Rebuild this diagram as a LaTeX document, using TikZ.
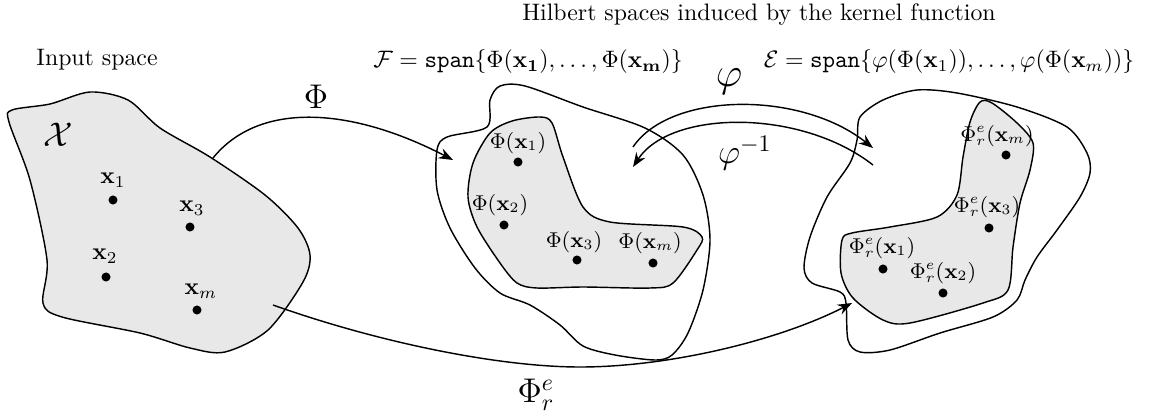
\documentclass[tikz,border=0pt]{standalone}
\usepackage{tikz}
\usetikzlibrary{arrows.meta}

\tikzset{
  region/.style={draw, semithick, fill=gray!18},
  hull/.style={draw, semithick},
  pt/.style={circle, fill, inner sep=0pt, minimum size=3.8pt},
  map/.style={semithick, -{Stealth[length=6pt,width=4.5pt]}},
  lab/.style={font=\small, inner sep=0.5pt}
}

\begin{document}
\begin{tikzpicture}[x=0.42pt,y=-0.42pt]
\useasboundingbox (0,0) rectangle (1149,414);

% headings
\node (title) at (759,15)  {Hilbert spaces induced by the kernel function};
\node (inp)   at (97,60)   {Input space};
\node (Fspan) at (528,62)  {$\mathcal{F} = \mathtt{span}\{\Phi(\mathbf{x_1}),\ldots,\Phi(\mathbf{x_m})\}$};
\node (Espan) at (949,62)  {$\mathcal{E} = \mathtt{span}\{\varphi(\Phi(\mathbf{x}_1)),\ldots,\varphi(\Phi(\mathbf{x}_m))\}$};

% input space
\draw [region] plot [smooth cycle] coordinates {(12,110) (50,104) (90,92) (128,100) (160,128)
  (210,157) (265,195) (298,228) (310,255) (303,282) (268,330) (225,352) (190,348) (140,333)
  (62,317) (43,303) (47,260) (30,180) (9,122)};
\node [font=\Large] (X) at (58,135) {$\mathcal{X}$};
\node [pt] (x1) at (113,200) {};
\node [pt] (x3) at (190,227) {};
\node [pt] (x2) at (106,277) {};
\node [pt] (xm) at (197,310) {};
\node (lx1) at (113,180) {$\mathbf{x}_1$};
\node (lx3) at (192,208) {$\mathbf{x}_3$};
\node (lx2) at (105,256) {$\mathbf{x}_2$};
\node (lxm) at (201,291) {$\mathbf{x}_m$};

% feature space F
\draw [hull] plot [smooth cycle] coordinates {(490,100) (500,86) (525,86) (583,107) (645,128)
  (683,155) (703,195) (710,240) (703,290) (688,333) (672,355) (655,360) (615,355) (583,346)
  (560,325) (530,305) (500,293) (475,268) (450,228) (437,190) (437,150) (447,137) (487,127)};
\draw [region] plot [smooth cycle, tension=0.5] coordinates {(540,117) (552,123) (563,157) (583,207)
  (610,222) (683,227) (702,237) (697,250) (673,283) (650,288) (583,287) (537,288) (517,283)
  (500,263) (477,227) (468,197) (473,163) (490,133) (512,121)};
\node [pt] (f1) at (518,162) {};
\node [pt] (f2) at (504,225) {};
\node [pt] (f3) at (577,260) {};
\node [pt] (fm) at (653,263) {};
\node [lab] (lf1) at (518,143) {$\Phi(\mathbf{x}_1)$};
\node [lab] (lf2) at (500,205) {$\Phi(\mathbf{x}_2)$};
\node [lab] (lf3) at (574,242) {$\Phi(\mathbf{x}_3)$};
\node [lab] (lfm) at (650,243) {$\Phi(\mathbf{x}_m)$};

% space E
\draw [hull] plot [smooth cycle] coordinates {(860,117) (883,100) (917,90) (957,93) (1017,107)
  (1067,127) (1087,153) (1090,173) (1080,197) (1057,230) (1037,257) (1025,280) (1017,300)
  (993,317) (940,333) (890,350) (860,352) (848,340) (846,303) (840,292) (812,283) (804,268)
  (810,237) (827,197) (850,163) (857,140)};
\draw [region] plot [smooth cycle, tension=0.5] coordinates {(980,102) (992,103) (1017,123) (1033,143)
  (1030,170) (1020,203) (1013,247) (1008,290) (983,303) (910,323) (883,320) (853,298)
  (841,273) (842,240) (852,233) (890,227) (937,217) (957,195) (963,157) (970,122)};
\node [pt] (em) at (1006,155) {};
\node [pt] (e3) at (989,228) {};
\node [pt] (e1) at (883,269) {};
\node [pt] (e2) at (943,293) {};
\node [lab] (lem) at (997,136) {$\Phi^e_r(\mathbf{x}_m)$};
\node [lab] (le3) at (987,207) {$\Phi^e_r(\mathbf{x}_3)$};
\node [lab] (le1) at (882,248) {$\Phi^e_r(\mathbf{x}_1)$};
\node [lab] (le2) at (943,273) {$\Phi^e_r(\mathbf{x}_2)$};

% maps
\coordinate (PhiS) at (213,158);
\coordinate (PhiE) at (453,160);
\coordinate (VarS) at (633,147);
\coordinate (VarE) at (873,148);
\coordinate (InvS) at (873,165);
\coordinate (InvE) at (633,167);
\coordinate (ReS)  at (273,305);
\coordinate (ReLow) at (580,367);
\coordinate (ReE)  at (852,303);
\draw [map] (PhiS) .. controls (260,100) and (353,108) .. (PhiE);
\draw [map] (VarS) .. controls (670,92) and (800,90) .. (VarE);
\draw [map] (InvS) .. controls (800,108) and (670,110) .. (InvE);
\draw [map] (ReS) .. controls (380,343) and (500,367) .. (ReLow)
  .. controls (670,367) and (780,340) .. (ReE);
\node [font=\Large] (lPhi) at (316,97)  {$\Phi$};
\node [font=\LARGE] (lVar) at (729,82)  {$\varphi$};
\node [font=\Large] (lInv) at (745,153) {$\varphi^{-1}$};
\node [font=\Large] (lRe)  at (536,395) {$\Phi^e_r$};
\end{tikzpicture}
\end{document}
